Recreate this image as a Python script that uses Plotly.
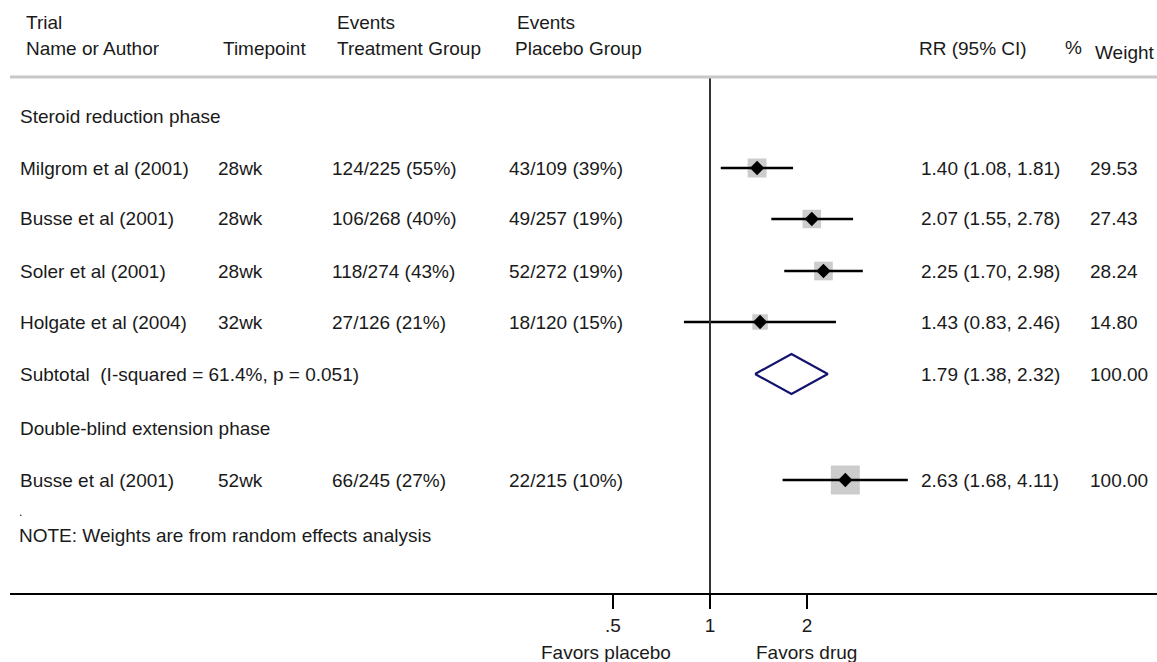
import plotly.graph_objects as go

# Study-level data
study_names = ["Milgrom et al (2001)", "Busse et al (2001)", "Soler et al (2001)", "Holgate et al (2004)"]
study_time = ["28wk", "28wk", "28wk", "32wk"]
study_treat = ["124/225 (55%)", "106/268 (40%)", "118/274 (43%)", "27/126 (21%)"]
study_placebo = ["43/109 (39%)", "49/257 (19%)", "52/272 (19%)", "18/120 (15%)"]
study_rr = [1.40, 2.07, 2.25, 1.43]
study_lo = [1.08, 1.55, 1.70, 0.83]
study_hi = [1.81, 2.78, 2.98, 2.46]
study_weight = [29.53, 27.43, 28.24, 14.80]

# Pooled estimate for the steroid reduction phase
subtotal_label = "Subtotal  (I-squared = 61.4%, p = 0.051)"
subtotal_rr, subtotal_lo, subtotal_hi, subtotal_weight = 1.79, 1.38, 2.32, 100.00

# Double-blind extension phase
ext_names = ["Busse et al (2001)"]
ext_time = ["52wk"]
ext_treat = ["66/245 (27%)"]
ext_placebo = ["22/215 (10%)"]
ext_rr = [2.63]
ext_lo = [1.68]
ext_hi = [4.11]
ext_weight = [100.00]

group_titles = ["Steroid reduction phase", "Double-blind extension phase"]
tick_vals = [0.5, 1, 2]
tick_text = [".5", "1", "2"]

# ---- layout geometry (pixel-based rows) ----
W, H = 1157, 662
ML, MB = 10, 69
AXIS_Y = H - MB
study_rows = [168, 219, 271, 322]
subtotal_row = 374
group_rows = [116, 428]
ext_rows = [480]

TXT = "#1a1a1a"
FONT = "Liberation Sans, Arial, sans-serif"
FS = 19
PAD = 3  # annotation inner padding


def px(xpix):
    return (xpix - ML) / (W - ML)


def py(ypix):
    return (AXIS_Y - ypix) / AXIS_Y


def fmt_ci(r, lo, hi):
    return f"{r:.2f} ({lo:.2f}, {hi:.2f})"


fig = go.Figure()

all_rr = study_rr + ext_rr
all_lo = study_lo + ext_lo
all_hi = study_hi + ext_hi
all_w = study_weight + ext_weight
all_rows = study_rows + ext_rows

# weight boxes
fig.add_trace(go.Scatter(
    x=all_rr, y=all_rows, mode="markers",
    marker=dict(symbol="square", color="rgb(182,182,182)",
                size=[2.2 * w ** 0.5 + 7 for w in all_w], line=dict(width=0)),
    hoverinfo="skip", showlegend=False))

# confidence interval lines
cx, cy = [], []
for lo, hi, r in zip(all_lo, all_hi, all_rows):
    cx += [lo, hi, None]
    cy += [r, r, None]
fig.add_trace(go.Scatter(x=cx, y=cy, mode="lines",
                         line=dict(color="black", width=2.5),
                         hoverinfo="skip", showlegend=False))

# point estimates
fig.add_trace(go.Scatter(
    x=all_rr, y=all_rows, mode="markers",
    marker=dict(symbol="diamond", color="black", size=11, line=dict(width=0)),
    hoverinfo="skip", showlegend=False))

# pooled diamond
fig.add_trace(go.Scatter(
    x=[subtotal_lo, subtotal_rr, subtotal_hi, subtotal_rr, subtotal_lo],
    y=[subtotal_row, subtotal_row - 20, subtotal_row, subtotal_row + 20, subtotal_row],
    mode="lines", line=dict(color="#141470", width=2.2),
    hoverinfo="skip", showlegend=False))

# reference line at RR = 1 and header rule
fig.add_shape(type="line", xref="x", yref="y", x0=1, x1=1, y0=78, y1=AXIS_Y,
              line=dict(color="#333333", width=2))
fig.add_shape(type="line", xref="paper", yref="y", x0=0, x1=1, y0=77, y1=77,
              line=dict(color="#c8c8c8", width=3))

ann = []


def text(xpix, y, s, anchor="left", size=FS):
    shift = -PAD if anchor == "left" else 0
    ann.append(dict(x=px(xpix + shift), y=py(y), xref="paper", yref="paper", text=s,
                    showarrow=False, xanchor=anchor, yanchor="middle",
                    font=dict(family=FONT, size=size, color=TXT)))


# column headers
text(27, 23, "Trial")
text(27, 49, "Name or Author")
text(224, 49, "Timepoint")
text(338, 23, "Events")
text(338, 49, "Treatment Group")
text(518, 23, "Events")
text(516, 49, "Placebo Group")
text(920, 49, "RR (95% CI)")
text(1066, 47, "%")
text(1096, 53, "Weight")

# group titles
for g, r in zip(group_titles, group_rows):
    text(21, r, g)

# study rows
for i, r in enumerate(study_rows):
    text(21, r, study_names[i])
    text(219, r, study_time[i])
    text(333, r, study_treat[i])
    text(510, r, study_placebo[i])
    text(922, r, fmt_ci(study_rr[i], study_lo[i], study_hi[i]))
    text(1091, r, f"{study_weight[i]:.2f}")

text(21, subtotal_row, subtotal_label)
text(922, subtotal_row, fmt_ci(subtotal_rr, subtotal_lo, subtotal_hi))
text(1091, subtotal_row, f"{subtotal_weight:.2f}")

for i, r in enumerate(ext_rows):
    text(21, r, ext_names[i])
    text(219, r, ext_time[i])
    text(333, r, ext_treat[i])
    text(510, r, ext_placebo[i])
    text(922, r, fmt_ci(ext_rr[i], ext_lo[i], ext_hi[i]))
    text(1091, r, f"{ext_weight[i]:.2f}")

text(20, 512, ".", size=12)
text(20, 535, "NOTE: Weights are from random effects analysis")

# direction labels under the axis
text(606, 652, "Favors placebo", anchor="center")
text(806, 652, "Favors drug", anchor="center")

# log-scale x range: RR=1 at pixel 710, one doubling = 97 px
LOG2_10 = 3.321928
x_left = (ML - 710) / 97 / LOG2_10
x_right = (W - 710) / 97 / LOG2_10

fig.update_layout(
    width=W, height=H,
    margin=dict(l=ML, r=0, t=0, b=MB),
    paper_bgcolor="white", plot_bgcolor="white",
    showlegend=False,
    annotations=ann,
    xaxis=dict(type="log", range=[x_left, x_right],
               tickvals=tick_vals, ticktext=tick_text,
               ticks="outside", ticklen=14, tickwidth=2, tickcolor="black",
               showline=True, linecolor="black", linewidth=2,
               showgrid=False, zeroline=False,
               tickfont=dict(family=FONT, size=FS, color=TXT)),
    yaxis=dict(range=[AXIS_Y, 0], visible=False, showgrid=False, zeroline=False),
)

fig.write_html("out.html")
